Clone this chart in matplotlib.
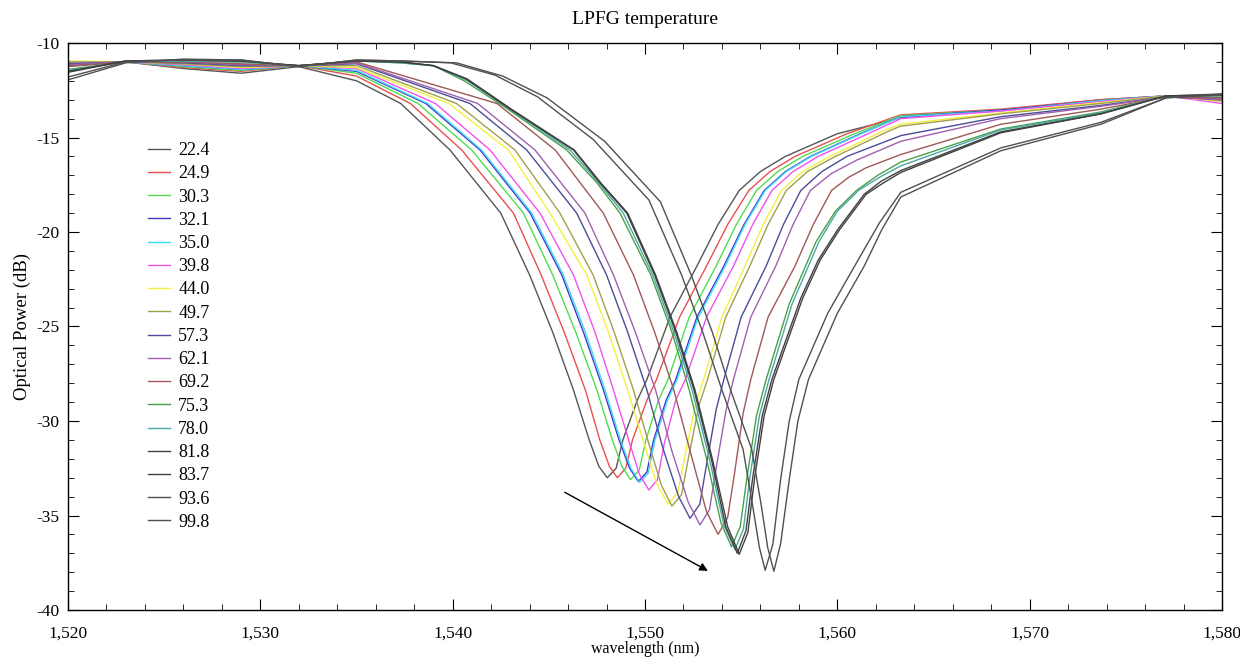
import matplotlib.pyplot as plt
import matplotlib.ticker as mticker

plt.rcParams['font.family'] = ['Liberation Serif', 'DejaVu Serif']
plt.rcParams['axes.unicode_minus'] = False

# shared wavelength points on the flat parts of the spectra
left_wl = [1520, 1523, 1526, 1529, 1532, 1535]
right_wl = [1563.3, 1568.5, 1573.7, 1577.1, 1580]

temps = ['22.4', '24.9', '30.3', '32.1', '35.0', '39.8', '44.0', '49.7', '57.3',
         '62.1', '69.2', '75.3', '78.0', '81.8', '83.7', '93.6', '99.8']
colors = ['#555555', '#e85050', '#50dc50', '#3a3ad0', '#40d8f0', '#f050f0',
          '#f4f040', '#a0a050', '#4c4c98', '#a060b0', '#a05858', '#4aa04a',
          '#4aa8a8', '#404040', '#404040', '#505050', '#505050']

wl_22_4 = left_wl + [1537.3, 1539.86, 1542.5, 1544.0, 1545.2, 1546.28, 1547.1, 1547.6, 1548.04, 1548.5, 1548.85, 1549.6, 1550.1, 1551.3, 1552.7, 1553.8, 1554.9, 1556.0, 1557.3, 1560.0] + right_wl
db_22_4 = [-11.2, -11.0, -11.35, -11.6, -11.25, -12.0] + [-13.2, -15.66, -19.0, -22.27, -25.3, -28.36, -31.0, -32.4, -33.0, -32.5, -31.0, -28.9, -27.8, -24.5, -21.8, -19.6, -17.8, -16.8, -16.0, -14.8] + [-13.95, -13.55, -13.0, -12.8, -12.9]

wl_24_9 = left_wl + [1537.8, 1540.47, 1543.16, 1544.6, 1545.8, 1546.9, 1547.65, 1548.15, 1548.56, 1549.0, 1549.35, 1550.1, 1550.6, 1551.8, 1553.2, 1554.3, 1555.4, 1556.5, 1557.8, 1560.5] + right_wl
db_24_9 = [-11.1, -11.0, -11.3, -11.5, -11.2, -11.75] + [-13.2, -15.66, -19.0, -22.27, -25.3, -28.36, -31.0, -32.4, -33.0, -32.5, -31.0, -28.9, -27.8, -24.5, -21.8, -19.6, -17.8, -16.8, -16.0, -14.8] + [-13.8, -13.5, -13.0, -12.8, -12.95]

wl_30_3 = left_wl + [1538.2, 1540.99, 1543.68, 1545.2, 1546.4, 1547.5, 1548.3, 1548.8, 1549.25, 1549.7, 1550.05, 1550.7, 1551.2, 1552.3, 1553.7, 1554.75, 1555.8, 1556.9, 1558.2, 1560.9] + right_wl
db_30_3 = [-11.1, -11.0, -11.25, -11.45, -11.2, -11.6] + [-13.2, -15.66, -19.0, -22.27, -25.3, -28.36, -31.0, -32.4, -33.1, -32.6, -31.0, -28.9, -27.8, -24.5, -21.8, -19.6, -17.8, -16.8, -16.0, -14.8] + [-13.85, -13.55, -13.05, -12.8, -13.0]

wl_32_1 = left_wl + [1538.6, 1541.42, 1544.03, 1545.67, 1546.8, 1547.84, 1548.65, 1549.2, 1549.65, 1550.1, 1550.45, 1551.1, 1551.6, 1552.7, 1554.1, 1555.15, 1556.2, 1557.3, 1558.6, 1561.2] + right_wl
db_32_1 = [-11.05, -11.0, -11.2, -11.4, -11.2, -11.5] + [-13.2, -15.66, -19.0, -22.27, -25.3, -28.36, -31.0, -32.5, -33.2, -32.7, -31.0, -28.9, -27.8, -24.5, -21.8, -19.6, -17.8, -16.8, -16.0, -14.8] + [-13.9, -13.55, -13.05, -12.8, -13.05]

wl_35_0 = left_wl + [1538.7, 1541.5, 1544.11, 1545.75, 1546.9, 1547.92, 1548.72, 1549.27, 1549.72, 1550.17, 1550.52, 1551.17, 1551.67, 1552.77, 1554.17, 1555.2, 1556.25, 1557.35, 1558.65, 1561.25] + right_wl
db_35_0 = [-11.05, -11.0, -11.2, -11.4, -11.2, -11.45] + [-13.2, -15.66, -19.0, -22.27, -25.3, -28.36, -31.0, -32.5, -33.25, -32.75, -31.0, -28.9, -27.8, -24.5, -21.8, -19.6, -17.8, -16.8, -16.0, -14.8] + [-13.9, -13.6, -13.05, -12.8, -13.1]

wl_39_8 = left_wl + [1539.1, 1541.94, 1544.54, 1546.28, 1547.4, 1548.36, 1549.15, 1549.7, 1550.2, 1550.65, 1551.0, 1551.6, 1552.1, 1553.2, 1554.6, 1555.6, 1556.6, 1557.7, 1559.0, 1561.6] + right_wl
db_39_8 = [-11.0, -11.0, -11.15, -11.35, -11.2, -11.35] + [-13.2, -15.66, -19.0, -22.27, -25.3, -28.36, -31.0, -32.8, -33.65, -33.1, -31.2, -28.9, -27.8, -24.5, -21.8, -19.6, -17.8, -16.8, -16.0, -14.8] + [-14.0, -13.6, -13.1, -12.8, -13.2]

wl_44_0 = left_wl + [1539.8, 1542.9, 1545.06, 1546.97, 1548.1, 1549.1, 1549.95, 1550.6, 1551.2, 1551.7, 1552.05, 1552.6, 1553.05, 1554.0, 1555.2, 1556.15, 1557.1, 1558.2, 1559.6, 1562.5] + right_wl
db_44_0 = [-10.95, -11.0, -11.1, -11.3, -11.2, -11.3] + [-13.2, -15.66, -19.0, -22.27, -25.3, -28.36, -31.2, -33.3, -34.4, -33.8, -32.0, -29.2, -27.8, -24.5, -21.8, -19.6, -17.8, -16.8, -16.0, -14.6] + [-14.3, -13.7, -13.15, -12.8, -13.1]

wl_49_7 = left_wl + [1540.2, 1543.24, 1545.58, 1547.3, 1548.4, 1549.4, 1550.2, 1550.85, 1551.4, 1551.9, 1552.25, 1552.8, 1553.25, 1554.2, 1555.45, 1556.4, 1557.35, 1558.45, 1559.9, 1562.8] + right_wl
db_49_7 = [-11.0, -11.0, -11.1, -11.25, -11.2, -11.2] + [-13.2, -15.66, -19.0, -22.27, -25.3, -28.36, -31.2, -33.4, -34.5, -33.9, -32.0, -29.2, -27.8, -24.5, -21.8, -19.6, -17.8, -16.8, -16.0, -14.6] + [-14.4, -13.75, -13.2, -12.8, -13.05]

wl_57_3 = left_wl + [1540.9, 1543.85, 1546.45, 1548.0, 1549.1, 1550.1, 1550.95, 1551.75, 1552.34, 1552.85, 1553.2, 1553.7, 1554.1, 1555.0, 1556.3, 1557.2, 1558.1, 1559.2, 1560.5] + right_wl
db_57_3 = [-11.1, -11.0, -11.05, -11.2, -11.2, -11.1] + [-13.2, -15.66, -19.0, -22.27, -25.3, -28.36, -31.5, -34.0, -35.15, -34.4, -32.3, -29.4, -27.8, -24.5, -21.8, -19.6, -17.8, -16.8, -16.0] + [-14.9, -13.9, -13.3, -12.85, -13.0]

wl_62_1 = left_wl + [1541.3, 1544.28, 1546.88, 1548.36, 1549.5, 1550.55, 1551.4, 1552.25, 1552.86, 1553.35, 1553.7, 1554.2, 1554.6, 1555.5, 1556.8, 1557.7, 1558.6, 1559.7, 1561.0] + right_wl
db_62_1 = [-11.15, -11.0, -11.0, -11.15, -11.2, -11.05] + [-13.2, -15.66, -19.0, -22.27, -25.3, -28.36, -31.6, -34.3, -35.5, -34.7, -32.5, -29.5, -27.8, -24.5, -21.8, -19.6, -17.8, -16.9, -16.2] + [-15.2, -14.0, -13.35, -12.85, -13.0]

wl_69_2 = left_wl + [1542.3, 1545.33, 1547.83, 1549.4, 1550.5, 1551.5, 1552.4, 1553.2, 1553.8, 1554.3, 1554.65, 1555.1, 1555.5, 1556.4, 1557.8, 1558.75, 1559.7, 1560.6, 1561.5] + right_wl
db_69_2 = [-11.25, -11.0, -11.0, -11.1, -11.2, -11.0] + [-13.2, -15.66, -19.0, -22.27, -25.3, -28.36, -31.8, -34.8, -36.0, -35.1, -32.8, -29.6, -27.8, -24.5, -21.8, -19.6, -17.8, -17.1, -16.6] + [-15.9, -14.3, -13.5, -12.85, -12.9]

wl_75_3 = left_wl + [1537.3, 1539.0, 1540.6, 1542.8, 1545.93, 1547.5, 1548.7, 1550.3, 1551.4, 1552.3, 1553.2, 1553.95, 1554.5, 1554.95, 1555.3, 1555.8, 1556.3, 1557.5, 1558.9, 1559.9, 1561.0, 1562.1] + right_wl
db_75_3 = [-11.4, -11.0, -10.95, -11.0, -11.2, -10.95] + [-11.05, -11.2, -12.0, -13.45, -15.66, -17.4, -19.0, -22.27, -25.3, -28.36, -32.0, -35.4, -36.65, -35.6, -33.0, -29.7, -27.8, -23.8, -20.5, -18.9, -17.8, -17.0] + [-16.3, -14.55, -13.65, -12.8, -12.8]

wl_78_0 = left_wl + [1537.3, 1539.0, 1540.7, 1542.9, 1546.1, 1547.6, 1548.87, 1550.4, 1551.5, 1552.45, 1553.35, 1554.1, 1554.68, 1555.12, 1555.45, 1555.95, 1556.45, 1557.65, 1559.05, 1560.0, 1561.1, 1562.2] + right_wl
db_78_0 = [-11.45, -11.0, -10.95, -11.0, -11.2, -10.95] + [-11.05, -11.2, -11.95, -13.45, -15.66, -17.4, -19.0, -22.27, -25.3, -28.36, -32.0, -35.5, -36.8, -35.7, -33.0, -29.7, -27.8, -23.8, -20.5, -18.9, -17.8, -17.1] + [-16.5, -14.6, -13.7, -12.8, -12.8]

wl_81_8 = left_wl + [1537.3, 1539.0, 1540.7, 1543.0, 1546.28, 1547.66, 1549.05, 1550.5, 1551.6, 1552.55, 1553.45, 1554.2, 1554.8, 1555.25, 1555.6, 1556.1, 1556.6, 1558.1, 1559.0, 1560.0, 1561.4, 1562.3] + right_wl
db_81_8 = [-11.5, -10.95, -10.9, -10.95, -11.2, -10.95] + [-11.0, -11.2, -11.9, -13.5, -15.66, -17.4, -19.0, -22.27, -25.3, -28.36, -32.0, -35.6, -37.0, -35.8, -33.0, -29.7, -27.8, -23.5, -21.5, -19.9, -18.0, -17.3] + [-16.75, -14.7, -13.75, -12.8, -12.75]

wl_83_7 = left_wl + [1537.3, 1539.0, 1540.75, 1543.05, 1546.32, 1547.7, 1549.1, 1550.55, 1551.65, 1552.6, 1553.5, 1554.3, 1554.9, 1555.35, 1555.7, 1556.2, 1556.7, 1558.2, 1559.1, 1560.1, 1561.5, 1562.4] + right_wl
db_83_7 = [-11.55, -10.95, -10.9, -10.95, -11.2, -10.95] + [-11.0, -11.2, -11.9, -13.5, -15.66, -17.4, -19.0, -22.27, -25.3, -28.36, -32.0, -35.6, -37.05, -35.9, -33.0, -29.7, -27.8, -23.5, -21.5, -19.9, -18.0, -17.4] + [-16.85, -14.75, -13.75, -12.8, -12.7]

wl_93_6 = left_wl + [1537.3, 1539.9, 1542.2, 1544.4, 1547.3, 1550.2, 1551.9, 1553.0, 1554.0, 1555.1, 1555.6, 1555.95, 1556.25, 1556.65, 1557.05, 1557.5, 1558.0, 1559.5, 1560.9, 1562.2] + right_wl
db_93_6 = [-11.8, -11.0, -10.9, -10.9, -11.25, -10.9] + [-10.95, -11.05, -11.7, -12.84, -15.1, -18.3, -22.27, -25.3, -28.36, -31.5, -34.5, -36.7, -37.9, -36.5, -33.1, -30.0, -27.8, -24.3, -21.8, -19.5] + [-17.9, -15.55, -14.2, -12.9, -12.75]

wl_99_8 = left_wl + [1537.3, 1540.2, 1542.6, 1544.9, 1547.9, 1550.8, 1552.4, 1553.5, 1554.45, 1555.55, 1556.05, 1556.38, 1556.7, 1557.05, 1557.5, 1557.95, 1558.5, 1560.0, 1561.4, 1562.3] + right_wl
db_99_8 = [-11.95, -11.05, -10.85, -10.9, -11.25, -10.9] + [-10.95, -11.05, -11.75, -12.9, -15.2, -18.4, -22.27, -25.3, -28.36, -31.5, -34.5, -36.7, -37.95, -36.5, -33.1, -30.0, -27.8, -24.3, -21.8, -19.9] + [-18.15, -15.7, -14.3, -12.9, -12.7]

series = [(wl_22_4, db_22_4), (wl_24_9, db_24_9), (wl_30_3, db_30_3), (wl_32_1, db_32_1),
          (wl_35_0, db_35_0), (wl_39_8, db_39_8), (wl_44_0, db_44_0), (wl_49_7, db_49_7),
          (wl_57_3, db_57_3), (wl_62_1, db_62_1), (wl_69_2, db_69_2), (wl_75_3, db_75_3),
          (wl_78_0, db_78_0), (wl_81_8, db_81_8), (wl_83_7, db_83_7), (wl_93_6, db_93_6),
          (wl_99_8, db_99_8)]

fig = plt.figure(figsize=(12.4, 6.61), dpi=100)
ax = fig.add_axes([68 / 1240, 1 - 610 / 661, 1154 / 1240, 567 / 661])

for lab, c, (wl, db) in zip(temps, colors, series):
    ax.plot(wl, db, color=c, lw=1.0, label=lab)

ax.set_xlim(1520, 1580)
ax.set_ylim(-40, -10)
ax.xaxis.set_major_locator(mticker.MultipleLocator(10))
ax.xaxis.set_minor_locator(mticker.MultipleLocator(2))
ax.yaxis.set_major_locator(mticker.MultipleLocator(5))
ax.yaxis.set_minor_locator(mticker.MultipleLocator(1))
ax.xaxis.set_major_formatter(mticker.FuncFormatter(lambda v, p: '{:,.0f}'.format(v)))
ax.yaxis.set_major_formatter(mticker.FuncFormatter(lambda v, p: '%d' % v))
ax.tick_params(which='both', direction='in', top=True, right=True, labelsize=12.5)
ax.tick_params(axis='x', which='major', pad=11)
ax.tick_params(axis='y', which='major', pad=6)
ax.tick_params(which='major', length=8)
ax.tick_params(which='minor', length=4.5)
for s in ax.spines.values():
    s.set_linewidth(1.0)

ax.set_title('LPFG temperature', fontsize=14, pad=14)
ax.set_xlabel('wavelength (nm)', fontsize=11.5, labelpad=0)
ax.set_ylabel('Optical Power (dB)', fontsize=13.5, labelpad=4)

# arrow showing the shift of the dip with temperature
ax.annotate('', xy=(1553.4, -38.0), xytext=(1545.7, -33.7),
            arrowprops=dict(arrowstyle='-|>', color='black', lw=1.0, mutation_scale=12))

ax.legend(loc='upper left', bbox_to_anchor=(0.0633, 0.838), frameon=False, fontsize=13,
          handlelength=1.22, handletextpad=0.44, labelspacing=0.345, borderaxespad=0)

fig.savefig('out.png', dpi=100)
